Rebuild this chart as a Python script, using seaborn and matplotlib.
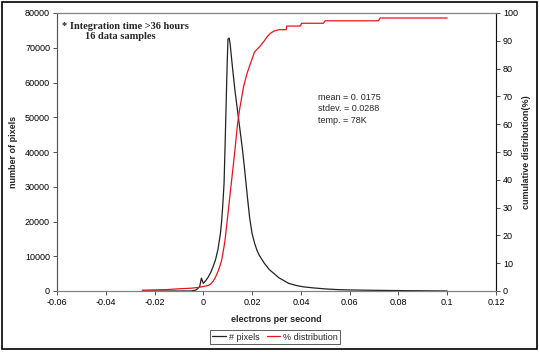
import matplotlib
matplotlib.use("Agg")
import matplotlib.pyplot as plt
import seaborn as sns
import pandas as pd
from matplotlib.patches import Rectangle
from matplotlib.lines import Line2D

# ---- data ----
x_pix = [-0.025, -0.015, -0.005, -0.003, -0.0015, -0.0008, 0.0, 0.001, 0.002, 0.003,
         0.004, 0.005, 0.006, 0.007, 0.0075, 0.008, 0.0085, 0.009, 0.0095, 0.0098,
         0.0101, 0.0106, 0.011, 0.012, 0.013, 0.014, 0.015, 0.016, 0.017, 0.018,
         0.019, 0.020, 0.021, 0.022, 0.023, 0.025, 0.027, 0.029, 0.031, 0.033,
         0.035, 0.038, 0.041, 0.045, 0.05, 0.055, 0.06, 0.07, 0.08, 0.09, 0.1]
n_pix = [0, 0, 0, 300, 1200, 3700, 2200, 3000, 4000, 5300,
         7000, 9000, 12000, 16500, 20000, 25000, 31000, 44000, 58000, 66000,
         72500, 72800, 71000, 64000, 57500, 52000, 46500, 41000, 34500, 27500,
         21000, 16500, 13800, 11700, 10200, 8000, 6200, 5000, 3800, 3000,
         2200, 1600, 1200, 900, 600, 400, 300, 200, 120, 60, 0]

x_cum = [-0.025, -0.015, -0.01, -0.005, -0.002, 0.0, 0.002, 0.003, 0.004, 0.005,
         0.006, 0.007, 0.0075, 0.008, 0.0085, 0.009, 0.0095, 0.010, 0.011, 0.012,
         0.013, 0.014, 0.015, 0.0165, 0.018, 0.0198, 0.021, 0.0232, 0.025, 0.0262,
         0.0275, 0.029, 0.031, 0.034, 0.0342, 0.0397, 0.0403, 0.0492, 0.05, 0.0718,
         0.0725, 0.1]
pct_cum = [0.3, 0.5, 0.8, 1.0, 1.3, 1.6, 2.0, 2.5, 3.5, 5.0,
           7.0, 9.5, 11.0, 13.5, 16.0, 19.0, 23.0, 27.0, 35.0, 43.0,
           51.0, 60.0, 66.0, 73.5, 78.5, 83.0, 86.0, 88.0, 90.0, 91.5,
           92.7, 93.5, 94.0, 94.0, 95.3, 95.3, 96.3, 96.3, 97.2, 97.2,
           98.2, 98.2]

x_ticks = [-0.06, -0.04, -0.02, 0, 0.02, 0.04, 0.06, 0.08, 0.1, 0.12]
x_tick_labels = ["-0.06", "-0.04", "-0.02", "0", "0.02", "0.04", "0.06", "0.08", "0.1", "0.12"]
y_left_ticks = [0, 10000, 20000, 30000, 40000, 50000, 60000, 70000, 80000]
y_right_ticks = [0, 10, 20, 30, 40, 50, 60, 70, 80, 90, 100]

series_names = ["# pixels", "% distribution"]
stats_lines = ["mean = 0. 0175", "stdev. = 0.0288", "temp. = 78K"]
note_lines = ["* Integration time >36 hours", "16 data samples"]

# ---- style ----
sns.set_theme(style="white")
plt.rcParams["font.family"] = ["Liberation Sans", "DejaVu Sans"]

fig = plt.figure(figsize=(5.39, 3.52), dpi=100)
ax = fig.add_axes([57 / 539, 1 - 291 / 352, (496 - 57) / 539, (291 - 13) / 352])
ax2 = ax.twinx()

df1 = pd.DataFrame({"x": x_pix, "y": n_pix})
df2 = pd.DataFrame({"x": x_cum, "y": pct_cum})
sns.lineplot(data=df1, x="x", y="y", ax=ax, color="#222222", linewidth=0.9)
sns.lineplot(data=df2, x="x", y="y", ax=ax2, color="#e8141c", linewidth=0.9)

ax.set_xlim(-0.06, 0.12)
ax.set_ylim(0, 80000)
ax2.set_ylim(0, 100)
ax.set_xticks(x_ticks)
ax.set_xticklabels(x_tick_labels)
ax.set_yticks(y_left_ticks)
ax.set_yticklabels([str(v) for v in y_left_ticks])
ax2.set_yticks(y_right_ticks)
ax2.set_yticklabels([str(v) for v in y_right_ticks])

fs = 6.5
for a in (ax, ax2):
    a.tick_params(axis="both", labelsize=fs, length=3, width=0.6, direction="out",
                  colors="#333333", labelcolor="black", pad=2)
    a.grid(False)
ax.tick_params(axis="x", bottom=True)
ax.tick_params(axis="y", left=True)
ax2.tick_params(axis="y", right=True)

for a in (ax, ax2):
    for s in a.spines.values():
        s.set_color("#808080")
        s.set_linewidth(0.8)
ax2.spines["right"].set_color("#111111")
ax2.spines["left"].set_color("#555555")

ax.set_xlabel("electrons per second", fontsize=fs, fontweight="bold", labelpad=6)
ax.set_ylabel("number of pixels", fontsize=fs, fontweight="bold", labelpad=5)
ax2.set_ylabel("cumulative distribution(%)", fontsize=fs, fontweight="bold", labelpad=3)

# annotations
ax.text(0.011, 0.953, note_lines[0], transform=ax.transAxes, fontsize=7.5,
        fontweight="bold", family=["Liberation Serif", "DejaVu Serif"], va="center")
ax.text(0.064, 0.916, note_lines[1], transform=ax.transAxes, fontsize=7.5,
        fontweight="bold", family=["Liberation Serif", "DejaVu Serif"], va="center")
for i, line in enumerate(stats_lines):
    ax.text((318 - 57) / 439, (291 - 97.5 - i * 11.3) / 278, line, transform=ax.transAxes,
            fontsize=fs, va="center")

# legend
handles = [Line2D([0], [0], color="#222222", lw=0.9),
           Line2D([0], [0], color="#e8141c", lw=0.9)]
leg = fig.legend(handles, series_names, loc="center", ncol=2,
                 bbox_to_anchor=(275 / 539, 1 - 337 / 352), fontsize=fs, frameon=True,
                 fancybox=False, edgecolor="#333333", handlelength=1.5, handletextpad=0.3,
                 columnspacing=0.8, borderpad=0.3, borderaxespad=0.2)
leg.get_frame().set_linewidth(0.7)

# outer border
fig.patches.append(Rectangle((2 / 539, 3 / 352), 535 / 539, 347 / 352, transform=fig.transFigure,
                             fill=False, edgecolor="black", linewidth=1.2))

fig.savefig("out.png", dpi=100)
